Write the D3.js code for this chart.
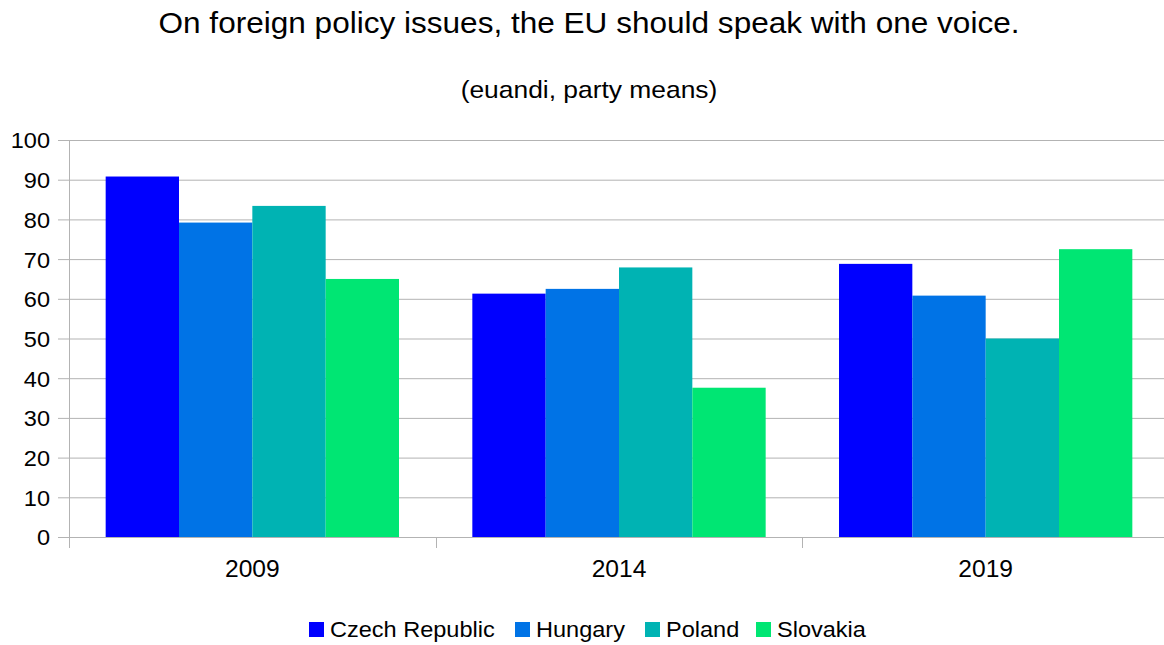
<!DOCTYPE html>
<html>
<head>
<meta charset="utf-8">
<script src="https://cdn.jsdelivr.net/npm/d3@7"></script>
<style>
  html, body { margin: 0; padding: 0; background: #fff; }
  svg { display: block; font-family: "Liberation Sans", Arial, sans-serif; }
</style>
</head>
<body>
<svg id="chart" width="1164" height="645"></svg>
<script>
// Survey years on the category axis
const years = ["2009", "2014", "2019"];
// Countries shown as series
const countries = ["Czech Republic", "Hungary", "Poland", "Slovakia"];
// Party means per country, one value per year
const czechRepublic = [90.8, 61.3, 68.8];
const hungary = [79.2, 62.5, 60.8];
const poland = [83.4, 67.9, 50.0];
const slovakia = [65.0, 37.6, 72.5];
const seriesValues = [czechRepublic, hungary, poland, slovakia];
const yTicks = [0, 10, 20, 30, 40, 50, 60, 70, 80, 90, 100];
const colors = ["#0000ff", "#0073e6", "#00b3b3", "#00e673"];

const svg = d3.select("#chart");
const plotLeft = 69, plotRight = 1169, plotTop = 140, plotBottom = 537;
// Slight horizontal widening of all lettering
const textStretch = "scale(1.07,1)";

const x0 = d3.scaleBand().domain(years).range([plotLeft, plotRight]).paddingInner(0).paddingOuter(0);
const groupPad = 0.1;
const x1 = d3.scaleBand().domain(countries)
  .range([x0.bandwidth() * groupPad, x0.bandwidth() * (1 - groupPad)]);
const y = d3.scaleLinear().domain([0, 100]).range([plotBottom, plotTop]);

// Horizontal gridlines
svg.append("g").selectAll("line").data(yTicks).join("line")
  .attr("x1", plotLeft - 11).attr("x2", plotRight)
  .attr("y1", d => y(d) + 0.5).attr("y2", d => y(d) + 0.5)
  .attr("stroke", "#b3b3b3").attr("stroke-width", 1);

// Y axis labels
const yAxis = d3.axisLeft(y).tickValues(yTicks).tickSize(0).tickPadding(0);
const yg = svg.append("g").attr("transform", `translate(${plotLeft - 19},0)`).call(yAxis);
yg.select(".domain").remove();
yg.selectAll("text").attr("font-size", 22).attr("fill", "#000")
  .attr("font-family", "Liberation Sans, Arial, sans-serif").attr("dy", "0.36em")
  .attr("transform", textStretch);

// Bars
const groups = svg.append("g").selectAll("g").data(years).join("g")
  .attr("transform", d => `translate(${x0(d)},0)`);
groups.selectAll("rect")
  .data((yr, i) => countries.map((c, k) => ({ c, k, v: seriesValues[k][i] })))
  .join("rect")
  .attr("x", d => x1(d.c))
  .attr("width", x1.bandwidth())
  .attr("y", d => y(d.v))
  .attr("height", d => y(0) - y(d.v))
  .attr("fill", d => colors[d.k]);

// Axis lines
svg.append("line").attr("x1", plotLeft + 0.5).attr("x2", plotLeft + 0.5)
  .attr("y1", plotTop).attr("y2", plotBottom + 11).attr("stroke", "#b3b3b3");
svg.append("line").attr("x1", plotLeft - 11).attr("x2", plotRight)
  .attr("y1", plotBottom + 0.5).attr("y2", plotBottom + 0.5).attr("stroke", "#b3b3b3");

// Category separators and labels
const xAxis = d3.axisBottom(x0).tickSize(0).tickPadding(0);
const xg = svg.append("g").attr("transform", `translate(0,${plotBottom})`).call(xAxis);
xg.select(".domain").remove();
xg.selectAll("text").attr("font-size", 23).attr("fill", "#000")
  .attr("font-family", "Liberation Sans, Arial, sans-serif")
  .attr("y", 40).attr("dy", 0).attr("transform", textStretch);
svg.append("g").selectAll("line").data(years.slice(1)).join("line")
  .attr("x1", d => Math.round(x0(d)) + 0.5).attr("x2", d => Math.round(x0(d)) + 0.5)
  .attr("y1", plotBottom).attr("y2", plotBottom + 11).attr("stroke", "#b3b3b3");

// Titles
svg.append("g").attr("transform", "translate(589,33)")
  .append("text").attr("text-anchor", "middle").attr("transform", textStretch)
  .attr("font-size", 29.5).attr("fill", "#000")
  .text("On foreign policy issues, the EU should speak with one voice.");
svg.append("g").attr("transform", "translate(589,98)")
  .append("text").attr("text-anchor", "middle").attr("transform", "scale(1.1,1)")
  .attr("font-size", 24).attr("fill", "#000")
  .text("(euandi, party means)");

// Legend
const legendX = [309, 515, 645, 756];
const lg = svg.append("g").selectAll("g").data(countries).join("g")
  .attr("transform", (d, i) => `translate(${legendX[i]},622)`);
lg.append("rect").attr("width", 15).attr("height", 15).attr("fill", (d, i) => colors[i]);
lg.append("g").attr("transform", "translate(21,15)")
  .append("text").attr("transform", textStretch)
  .attr("font-size", 22).attr("fill", "#000").text(d => d);
</script>
</body>
</html>
